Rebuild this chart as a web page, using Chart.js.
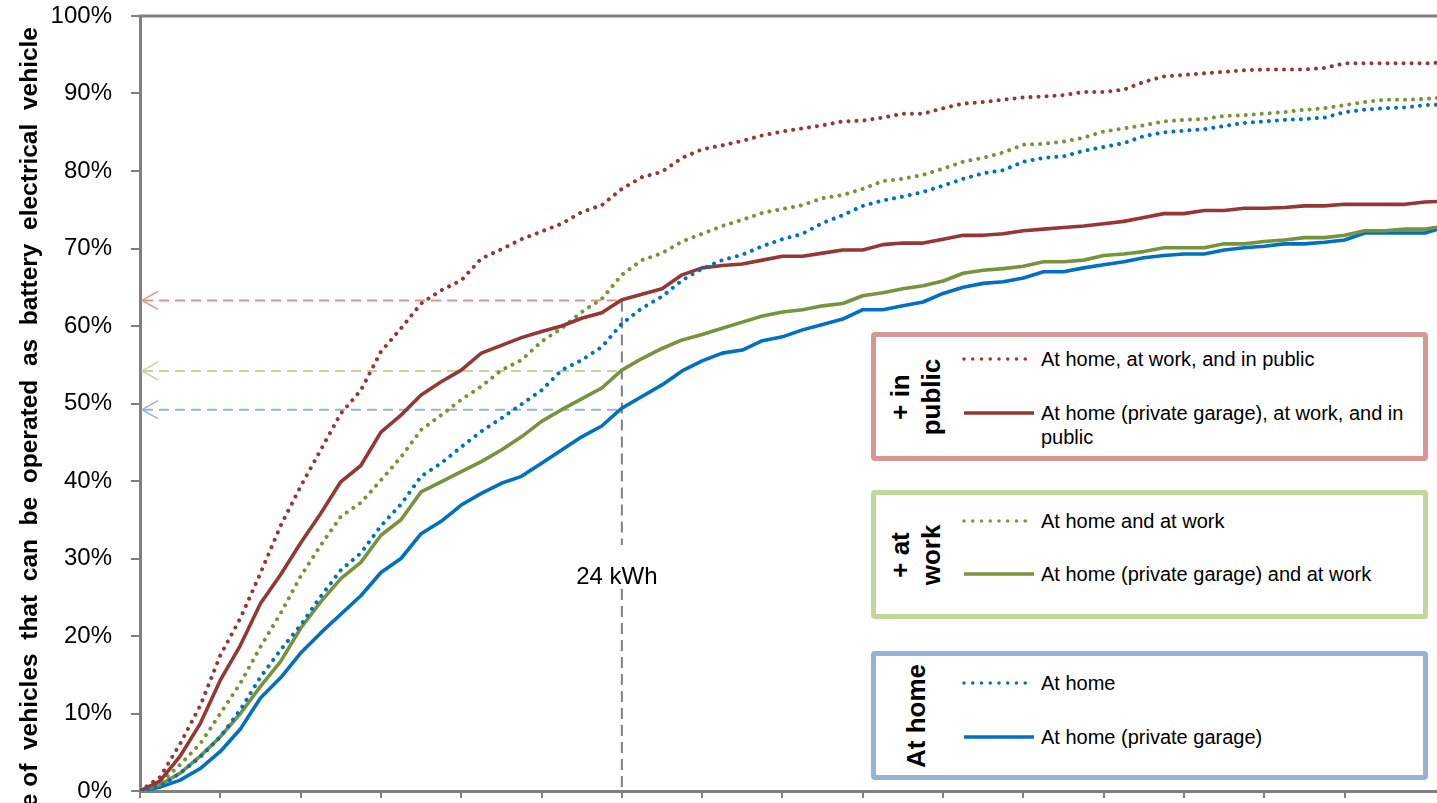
<!DOCTYPE html>
<html>
<head>
<meta charset="utf-8">
<script src="https://cdn.jsdelivr.net/npm/chart.js@4.4.1/dist/chart.umd.min.js"></script>
<style>
    html, body { margin: 0; padding: 0; background: #fff; overflow: hidden; }
    #wrap { position: relative; width: 1437px; height: 803px; font-family: "Liberation Sans", Arial, sans-serif; color: #000; }
    #chart { position: absolute; left: 0; top: 0; }
    .box { position: absolute; box-sizing: border-box; border: 5px solid; border-radius: 4px; background: #fff; }
    .group { position: absolute; font-weight: bold; font-size: 26px; line-height: 31px; text-align: center; white-space: nowrap; transform: translate(-50%, -50%) rotate(-90deg); }
    .item { position: absolute; font-size: 20px; line-height: 24px; width: 380px; }
    .sample { position: absolute; }
</style>
</head>
<body>
<div id="wrap">
    <canvas id="chart" width="1437" height="803"></canvas>
</div>
<script>
// Batteriekapazität in kWh (x)
const kwh = [0, 1, 2, 3, 4, 5, 6, 7, 8, 9, 10, 11, 12, 13, 14, 15, 16, 17, 18, 19, 20,
    21, 22, 23, 24, 25, 26, 27, 28, 29, 30, 31, 32, 33, 34, 35, 36, 37, 38, 39, 40,
    41, 42, 43, 44, 45, 46, 47, 48, 49, 50, 51, 52, 53, 54, 55, 56, 57, 58, 59, 60,
    61, 62, 63, 64, 65];

// Anteil in % je Ladeszenario
const homeWorkPublic = [0, 1.8, 6.1, 11.0, 17.5, 22.3, 28.1, 34.2, 39.3, 44.0, 48.7,
    51.7, 56.7, 59.7, 62.9, 64.6, 65.9, 68.7, 69.9, 71.2, 72.2,
    73.2, 74.7, 75.6, 77.7, 79.2, 79.9, 81.7, 82.8, 83.3, 83.9,
    84.6, 85.1, 85.5, 85.9, 86.4, 86.5, 86.9, 87.4, 87.4, 88.1,
    88.7, 88.9, 89.2, 89.5, 89.6, 89.8, 90.2, 90.2, 90.5, 91.5,
    92.2, 92.4, 92.6, 92.8, 93.0, 93.1, 93.1, 93.1, 93.3, 93.9,
    93.9, 93.9, 93.9, 93.9, 94.0];
const garageWorkPublic = [0, 1.3, 4.5, 8.7, 14.3, 18.8, 24.2, 27.9, 32.0, 35.8, 39.9,
    42.0, 46.3, 48.5, 51.1, 52.8, 54.3, 56.5, 57.5, 58.5, 59.3,
    60.0, 61.0, 61.7, 63.4, 64.1, 64.8, 66.6, 67.5, 67.8, 68.0,
    68.5, 69.0, 69.0, 69.4, 69.8, 69.8, 70.5, 70.7, 70.7, 71.2,
    71.7, 71.7, 71.9, 72.3, 72.5, 72.7, 72.9, 73.2, 73.5, 74.0,
    74.5, 74.5, 74.9, 74.9, 75.2, 75.2, 75.3, 75.5, 75.5, 75.7,
    75.7, 75.7, 75.7, 76.0, 76.1];
const homeWork = [0, 1.0, 3.4, 6.1, 10.0, 13.9, 18.6, 22.9, 27.7, 31.7, 35.4,
    37.2, 40.1, 43.1, 46.6, 48.5, 50.5, 52.2, 54.3, 55.6, 58.0,
    59.7, 61.8, 63.5, 66.6, 68.5, 69.4, 70.9, 71.9, 72.9, 73.7,
    74.6, 75.1, 75.6, 76.5, 76.9, 77.7, 78.7, 79.0, 79.5, 80.3,
    81.2, 81.7, 82.4, 83.4, 83.5, 83.8, 84.3, 85.1, 85.5, 85.9,
    86.4, 86.6, 86.7, 87.1, 87.2, 87.4, 87.6, 87.9, 88.1, 88.5,
    88.9, 89.2, 89.2, 89.3, 89.5];
const garageWork = [0, 0.8, 2.3, 4.5, 7.0, 10.0, 13.5, 16.7, 21.0, 24.4, 27.4,
    29.5, 33.0, 35.0, 38.6, 39.9, 41.2, 42.5, 44.0, 45.7, 47.7,
    49.2, 50.6, 52.0, 54.3, 55.8, 57.1, 58.2, 58.9, 59.7, 60.5,
    61.3, 61.8, 62.1, 62.6, 62.9, 63.9, 64.3, 64.8, 65.2, 65.8,
    66.8, 67.2, 67.4, 67.7, 68.3, 68.3, 68.5, 69.1, 69.3, 69.6,
    70.1, 70.1, 70.1, 70.6, 70.6, 70.9, 71.1, 71.4, 71.4, 71.7,
    72.3, 72.3, 72.5, 72.5, 72.9];
const home = [0, 0.6, 2.3, 4.4, 7.0, 10.5, 14.7, 18.2, 21.4, 25.1, 28.5,
    30.7, 34.2, 37.0, 40.6, 42.3, 44.4, 46.4, 48.1, 49.9, 51.7,
    54.3, 55.6, 57.3, 60.3, 62.3, 63.8, 65.9, 67.4, 68.5, 69.2,
    70.3, 71.2, 71.9, 73.3, 74.3, 75.5, 76.2, 76.7, 77.3, 78.1,
    79.0, 79.7, 80.1, 81.2, 81.7, 81.9, 82.6, 83.1, 83.6, 84.5,
    85.0, 85.2, 85.4, 85.8, 86.2, 86.4, 86.6, 86.7, 86.9, 87.6,
    87.9, 88.1, 88.2, 88.5, 88.6];
const garage = [0, 0.5, 1.4, 2.9, 5.1, 8.0, 12.0, 14.6, 17.8, 20.4, 22.8,
    25.2, 28.2, 30.0, 33.2, 34.8, 36.9, 38.4, 39.7, 40.6, 42.3,
    44.0, 45.7, 47.1, 49.4, 50.9, 52.4, 54.2, 55.5, 56.5, 56.9,
    58.1, 58.6, 59.5, 60.2, 60.9, 62.1, 62.1, 62.6, 63.1, 64.2,
    65.0, 65.5, 65.7, 66.2, 67.0, 67.0, 67.5, 67.9, 68.3, 68.8,
    69.1, 69.3, 69.3, 69.8, 70.1, 70.3, 70.6, 70.6, 70.8, 71.1,
    72.0, 72.0, 72.0, 72.0, 72.8];

const yTicks = [0, 10, 20, 30, 40, 50, 60, 70, 80, 90, 100];

// Markierung bei 24 kWh
const refKwh = 24;
const refLabel = '24 kWh';
const refLabelLevel = 27.6;
const refLevels = [63.3, 54.2, 49.2];

const yTitle = 'Share of  vehicles  that  can  be  operated  as  battery  electrical  vehicle';

const legendGroups = [
    { title: ['+ in', 'public'], border: '#DA9694', color: '#953735',
      items: ['At home, at work, and in public', 'At home (private garage), at work, and in public'] },
    { title: ['+ at', 'work'], border: '#C3D69B', color: '#77933C',
      items: ['At home and at work', 'At home (private garage) and at work'] },
    { title: ['At home'], border: '#95B3D7', color: '#0070C0',
      items: ['At home', 'At home (private garage)'] }
];

const COLORS = { red: '#953735', green: '#77933C', blue: '#0070C0', axis: '#808080' };

function toPoints(values) {
    return kwh.map((k, i) => ({ x: k, y: values[i] }));
}

function lineSet(label, values, color, dotted) {
    return {
        label,
        data: toPoints(values),
        borderColor: color,
        borderWidth: dotted ? 4 : 3.6,
        borderDash: dotted ? [0.01, 8] : [],
        borderCapStyle: dotted ? 'round' : 'butt',
        borderJoinStyle: 'round',
        fill: false,
        tension: 0,
        pointRadius: 0
    };
}

// Hilfslinien, Achsentitel, oberer Rahmen
const extrasPlugin = {
    id: 'extras',
    beforeDatasetsDraw(chart) {
        const { ctx, scales: { x, y } } = chart;
        const xr = x.getPixelForValue(refKwh);
        ctx.save();
        ctx.lineWidth = 2;
        refLevels.forEach((lvl, i) => {
            const py = y.getPixelForValue(lvl);
            ctx.strokeStyle = legendGroups[i].border;
            ctx.setLineDash([10, 6]);
            ctx.beginPath();
            ctx.moveTo(x.left + 3, py);
            ctx.lineTo(xr, py);
            ctx.stroke();
            ctx.setLineDash([]);
            ctx.lineWidth = 1.5;
            ctx.beginPath();
            ctx.moveTo(x.left + 18, py - 9);
            ctx.lineTo(x.left + 2, py);
            ctx.lineTo(x.left + 18, py + 9);
            ctx.stroke();
            ctx.lineWidth = 2;
        });

        // senkrechte Linie mit Lücke für Beschriftung
        const yTop = y.getPixelForValue(refLevels[0]);
        const yLab = y.getPixelForValue(refLabelLevel);
        ctx.strokeStyle = COLORS.axis;
        ctx.setLineDash([11, 6]);
        ctx.beginPath();
        ctx.moveTo(xr, yTop);
        ctx.lineTo(xr, yLab - 32);
        ctx.moveTo(xr, yLab + 12);
        ctx.lineTo(xr, y.bottom);
        ctx.stroke();
        ctx.setLineDash([]);

        ctx.fillStyle = '#000';
        ctx.font = '24px "Liberation Sans", Arial, sans-serif';
        ctx.textAlign = 'center';
        ctx.textBaseline = 'middle';
        ctx.fillText(refLabel, xr - 5, yLab);
        ctx.restore();
    },
    afterDraw(chart) {
        const { ctx, scales: { x, y } } = chart;
        ctx.save();
        ctx.strokeStyle = COLORS.axis;
        ctx.lineWidth = 3;
        ctx.beginPath();
        ctx.moveTo(x.left - 1.5, y.top);
        ctx.lineTo(chart.width, y.top);
        ctx.stroke();

        ctx.translate(37, 27);
        ctx.rotate(-Math.PI / 2);
        ctx.fillStyle = '#000';
        ctx.font = 'bold 24.5px "Liberation Sans", Arial, sans-serif';
        ctx.textAlign = 'right';
        ctx.textBaseline = 'alphabetic';
        ctx.fillText(yTitle, 0, 0);
        ctx.restore();
    }
};

new Chart(document.getElementById('chart'), {
    type: 'line',
    data: {
        datasets: [
            lineSet(legendGroups[2].items[0], home, COLORS.blue, true),
            lineSet(legendGroups[0].items[1], garageWorkPublic, COLORS.red, false),
            lineSet(legendGroups[1].items[0], homeWork, COLORS.green, true),
            lineSet(legendGroups[0].items[0], homeWorkPublic, COLORS.red, true),
            lineSet(legendGroups[1].items[1], garageWork, COLORS.green, false),
            lineSet(legendGroups[2].items[1], garage, COLORS.blue, false)
        ]
    },
    options: {
        responsive: false,
        animation: false,
        layout: { padding: { top: 16, right: 0, bottom: 0, left: 0 } },
        plugins: {
            legend: { display: false },
            tooltip: { enabled: false }
        },
        scales: {
            x: {
                type: 'linear',
                min: 0,
                max: 64.6,
                ticks: { stepSize: 4, display: false },
                afterBuildTicks: s => { s.ticks = s.ticks.filter(t => t.value % 4 === 0); },
                grid: { drawOnChartArea: false, tickLength: 7, color: COLORS.axis, lineWidth: 2 },
                border: { color: COLORS.axis, width: 3 },
                afterFit: s => { s.height = 12; s.paddingLeft = 0; s.paddingRight = 0; }
            },
            y: {
                min: 0,
                max: 100,
                afterBuildTicks: s => { s.ticks = yTicks.map(v => ({ value: v })); },
                ticks: {
                    padding: 19,
                    color: '#000',
                    font: { family: '"Liberation Sans", Arial, sans-serif', size: 24 },
                    callback: v => v + '%'
                },
                grid: { drawOnChartArea: false, tickLength: 9, color: COLORS.axis, lineWidth: 2 },
                border: { color: COLORS.axis, width: 3 },
                afterFit: s => { s.width = 140; s.paddingTop = 0; s.paddingBottom = 0; }
            }
        }
    },
    plugins: [extrasPlugin]
});

// Legende als Kästen rechts unten
const wrap = document.getElementById('wrap');
const boxTops = [332, 490, 651];
const boxHeight = 129;
const itemOffsets = [[27, 81], [31, 84], [32, 86]];
legendGroups.forEach((g, gi) => {
    const top = boxTops[gi];
    const box = document.createElement('div');
    box.className = 'box';
    box.style.cssText = `left:871px;top:${top}px;width:557px;height:${boxHeight}px;border-color:${g.border}`;
    wrap.appendChild(box);

    const title = document.createElement('div');
    title.className = 'group';
    title.style.left = '916px';
    title.style.top = (top + boxHeight / 2) + 'px';
    title.innerHTML = g.title.join('<br>');
    wrap.appendChild(title);

    g.items.forEach((label, ii) => {
        const cy = top + itemOffsets[gi][ii];
        const dotted = ii === 0;
        const svg = `<svg class="sample" style="left:962px;top:${cy - 5}px" width="76" height="10">` +
            `<line x1="2" y1="5" x2="72" y2="5" stroke="${g.color}" stroke-width="3.5" ` +
            (dotted ? 'stroke-linecap="round" stroke-dasharray="0 8.75"' : '') + '/></svg>';
        wrap.insertAdjacentHTML('beforeend', svg);

        const t = document.createElement('div');
        t.className = 'item';
        t.style.left = '1041px';
        t.style.top = (cy - 12) + 'px';
        t.textContent = label;
        wrap.appendChild(t);
    });
});
</script>
</body>
</html>
